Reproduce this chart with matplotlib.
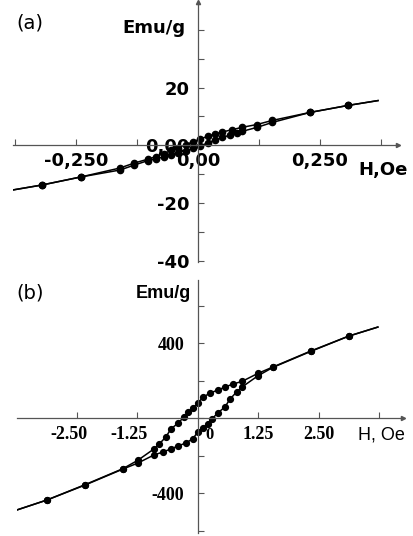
import numpy as np
import matplotlib
matplotlib.use("Agg")
import matplotlib.pyplot as plt
from matplotlib.transforms import ScaledTranslation

# (a) hysteresis loop, small field range
xa_up = [0.369, 0.307, 0.230, 0.152, 0.121, 0.090, 0.070, 0.050, 0.035, 0.020, 0.005,
         -0.010, -0.025, -0.040, -0.055, -0.070, -0.085, -0.102, -0.131, -0.160, -0.240, -0.320, -0.379]
ya_up = [15.5, 13.8, 11.4, 8.6, 7.2, 6.2, 5.4, 4.6, 3.9, 3.1, 2.2,
         1.2, 0.2, -0.8, -1.8, -2.9, -3.9, -4.8, -6.2, -7.9, -11.0, -13.8, -15.5]
xa_lo = [-0.379, -0.320, -0.240, -0.160, -0.131, -0.102, -0.085, -0.070, -0.055, -0.040, -0.025,
         -0.010, 0.005, 0.020, 0.035, 0.050, 0.065, 0.080, 0.090, 0.121, 0.152, 0.230, 0.307, 0.369]
ya_lo = [-15.5, -13.8, -11.0, -8.6, -6.9, -5.3, -4.7, -4.0, -3.3, -2.6, -1.9,
         -1.1, -0.2, 0.8, 1.8, 2.7, 3.5, 4.3, 4.8, 6.2, 7.9, 11.4, 13.8, 15.5]

# (b) hysteresis loop, larger field range
xb_up = [3.72, 3.12, 2.33, 1.55, 1.24, 0.91, 0.72, 0.56, 0.41, 0.25, 0.10, 0.0,
         -0.10, -0.20, -0.29, -0.41, -0.56, -0.66, -0.80, -0.91, -1.24, -1.55, -2.33, -3.12, -3.74]
yb_up = [485, 437, 357, 272, 238, 195, 181, 165, 149, 133, 110, 80,
         55, 30, 5, -27, -59, -100, -139, -165, -225, -270, -355, -437, -490]
xb_lo = [-3.74, -3.12, -2.33, -1.55, -1.24, -0.91, -0.72, -0.56, -0.41, -0.25, -0.10, 0.0,
         0.10, 0.20, 0.29, 0.41, 0.56, 0.66, 0.80, 0.91, 1.24, 1.55, 2.33, 3.12, 3.72]
yb_lo = [-490, -437, -357, -272, -240, -197, -181, -165, -149, -133, -110, -72,
         -55, -30, -5, 27, 59, 100, 139, 165, 225, 270, 355, 437, 485]

xa_ticks = [-0.375, -0.25, -0.125, 0, 0.125, 0.25, 0.375]
xa_labels = ['', '-0,250', '', '0,00', '', '0,250', '']
ya_ticks = [-40, -30, -20, -10, 0, 10, 20, 30, 40]
ya_labels = ['-40', '', '-20', '', '0,00', '', '20', '', '']

xb_ticks = [-2.5, -1.25, 1.25, 2.5, 3.75]
xb_labels = ['-2.50', '-1.25', '1.25', '2.50', '']
yb_ticks = [-600, -400, -200, 0, 200, 400, 600]
yb_labels = ['', '-400', '', '', '', '400', '']

W, H = 414, 536
fig = plt.figure(figsize=(W / 100, H / 100), dpi=100)
axcol = '#555555'


def setup(ax):
    for s in ['top', 'right']:
        ax.spines[s].set_visible(False)
    for s in ['left', 'bottom']:
        ax.spines[s].set_position(('data', 0))
        ax.spines[s].set_color(axcol)
        ax.spines[s].set_linewidth(0.9)
    ax.tick_params(direction='in', length=4, width=0.8, color=axcol)
    ax.patch.set_alpha(0)
    ax.plot(1, 0, '>', color=axcol, ms=3, transform=ax.get_yaxis_transform(), clip_on=False)


# panel (a)
ax1 = fig.add_axes([13 / W, 1 - 262 / H, 385 / W, 260 / H])
setup(ax1)
ax1.set_xlim(-0.379, 0.410)
ax1.set_ylim(-40.5, 49.7)
for xs, ys in [(xa_up, ya_up), (xa_lo, ya_lo)]:
    ax1.plot(xs, ys, color='black', lw=1.1, marker='o', ms=4.5, markevery=slice(1, -1))
ax1.plot(0, 1, '^', color=axcol, ms=3, transform=ax1.get_xaxis_transform(), clip_on=False)
ax1.set_xticks(xa_ticks)
ax1.set_xticklabels(xa_labels, fontsize=13, fontweight='bold')
ax1.set_yticks(ya_ticks)
ax1.set_yticklabels(ya_labels, fontsize=13, fontweight='bold')
ax1.tick_params(axis='x', pad=5)
ax1.tick_params(axis='y', pad=6)

# panel (b)
ax2 = fig.add_axes([17 / W, 1 - 533 / H, 386 / W, 253 / H])
setup(ax2)
ax2.set_xlim(-3.74, 4.24)
ax2.set_ylim(-613, 736)
for xs, ys in [(xb_up, yb_up), (xb_lo, yb_lo)]:
    ax2.plot(xs, ys, color='black', lw=1.1, marker='o', ms=4.2, markevery=slice(1, -1))
ax2.set_xticks(xb_ticks)
ax2.set_xticklabels(xb_labels, fontsize=13, fontweight='bold', family='Liberation Serif')
ax2.set_yticks(yb_ticks)
ax2.set_yticklabels(yb_labels, fontsize=13, fontweight='bold', family='Liberation Serif')
ax2.tick_params(axis='x', pad=6)
ax2.tick_params(axis='y', pad=10)
for lab in ax2.get_xticklabels():
    if lab.get_text().startswith('-'):
        lab.set_transform(lab.get_transform() + ScaledTranslation(-8 / 100, 0, fig.dpi_scale_trans))


def ftext(x, y, s, **kw):
    fig.text(x / W, 1 - y / H, s, ha='center', va='center', **kw)


ftext(30, 23, '(a)', fontsize=14)
ftext(154, 28, 'Emu/g', fontsize=13, fontweight='bold')
ftext(383, 170, 'H,Oe', fontsize=13, fontweight='bold')

ftext(30, 293, '(b)', fontsize=14)
ftext(163, 294, 'Emu/g', fontsize=13, fontweight='bold', family='Liberation Sans')
ftext(381, 435, 'H, Oe', fontsize=13, family='Liberation Sans')
ftext(210, 435, '0', fontsize=12, fontweight='bold', family='Liberation Serif')

fig.savefig('out.png', dpi=100)
